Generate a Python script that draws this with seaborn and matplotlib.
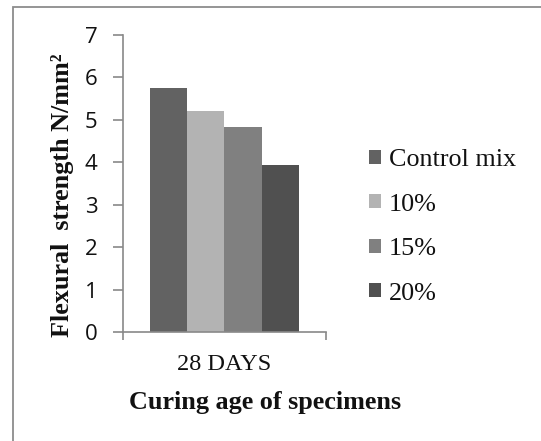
import matplotlib
matplotlib.use("Agg")
import matplotlib.pyplot as plt
import seaborn as sns
import pandas as pd
from matplotlib.patches import Rectangle
from matplotlib.ticker import FixedLocator

# Data
categories = ["28 DAYS"]
series = ["Control mix", "10%", "15%", "20%"]
values = [5.75, 5.2, 4.83, 3.93]
colors = ["#626262", "#b3b3b3", "#808080", "#505050"]
yticks = [0, 1, 2, 3, 4, 5, 6, 7]

df = pd.DataFrame({"age": categories * len(series), "mix": series, "value": values})

sns.set_theme(style="white")
W, H = 541, 441
fig = plt.figure(figsize=(W / 100, H / 100), dpi=100)
ax = fig.add_axes([122.7 / W, 1 - 332 / H, (326 - 122.7) / W, (332 - 35) / H])

sns.barplot(data=df, x="age", y="value", hue="mix", palette=colors,
            hue_order=series, width=0.733, saturation=1, linewidth=0, ax=ax)

axis_col = "#898989"
ax.set_xlim(-0.5, 0.5)
ax.set_ylim(0, 7)
ax.set_yticks(yticks)
for s in ["top", "right"]:
    ax.spines[s].set_visible(False)
for s in ["left", "bottom"]:
    ax.spines[s].set_color(axis_col)
    ax.spines[s].set_linewidth(1.2)

ax.tick_params(axis="y", which="major", direction="out", length=7, width=1.2,
               color=axis_col, pad=11, left=True)
ax.tick_params(axis="x", which="major", length=0, pad=16)
ax.xaxis.set_minor_locator(FixedLocator([-0.5, 0.5]))
ax.tick_params(axis="x", which="minor", direction="out", length=5.5, width=1.2,
               color=axis_col, bottom=True)

for lab in ax.get_yticklabels():
    lab.set_fontfamily("Open Sans")
    lab.set_fontsize(16)
    lab.set_color("#111111")
for lab in ax.get_xticklabels():
    lab.set_fontfamily("Liberation Serif")
    lab.set_fontsize(17.5)
    lab.set_color("#111111")

ax.set_xlabel("")
ax.set_ylabel("")
fig.text(265 / W, 1 - 403 / H, "Curing age of specimens", ha="center", va="center",
         fontfamily="Liberation Serif", fontweight="bold", fontsize=18.8, color="#111111")
fig.text(63 / W, 1 - 195 / H, "Flexural  strength N/mm²", ha="center", va="center",
         rotation=90, fontfamily="Liberation Serif", fontweight="bold", fontsize=18.8,
         color="#111111")

leg = ax.legend(loc="center left", bbox_to_anchor=(369 / W, 1 - 227 / H),
                bbox_transform=fig.transFigure, frameon=False,
                prop={"family": "Liberation Serif", "size": 18.8},
                handlelength=0.45, handleheight=0.45, handletextpad=0.3,
                labelspacing=0.86, borderpad=0, borderaxespad=0)
for t in leg.get_texts():
    t.set_color("#111111")

fig.patches.append(Rectangle((13 / W, -0.1), 1.2, 1 - 7 / H + 0.1,
                             transform=fig.transFigure, fill=False,
                             edgecolor="#8c8c8c", linewidth=1.3))

fig.savefig("out.png", dpi=100)
